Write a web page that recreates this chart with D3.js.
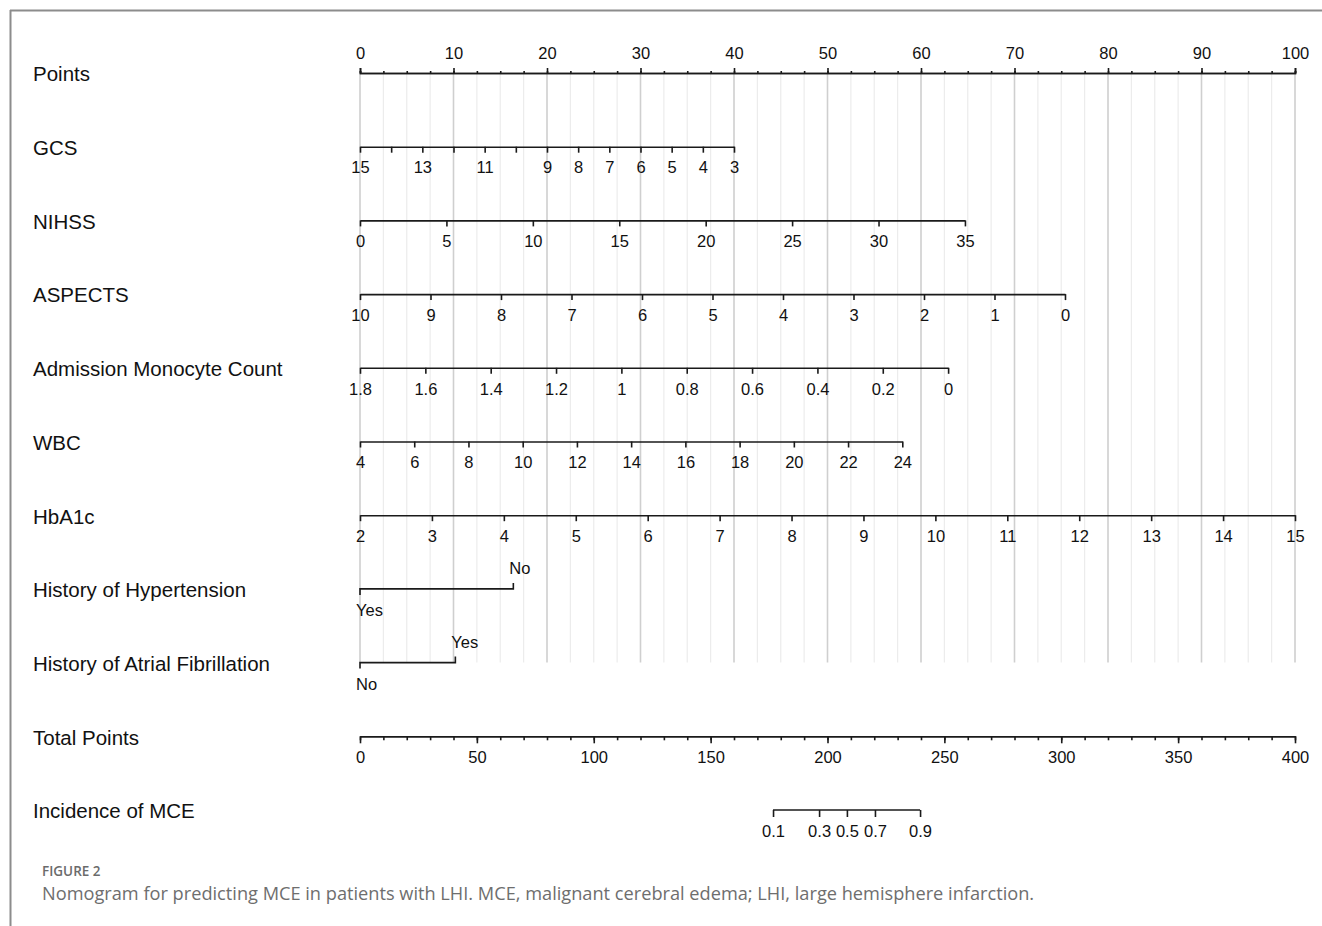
<!DOCTYPE html>
<html>
<head>
<meta charset="utf-8">
<script src="https://cdn.jsdelivr.net/npm/d3@7"></script>
<style>
  html, body { margin: 0; padding: 0; background: #fff; }
  svg { display: block; }
  .lab { font-family: "Liberation Sans", Arial, sans-serif; font-size: 20.5px; fill: #111; }
  .tick text, .tl { font-family: "Liberation Sans", Arial, sans-serif; font-size: 16.5px; fill: #111; }
</style>
</head>
<body>
<svg id="chart" width="1322" height="926"></svg>
<script>
// ---- Nomogram data: axis tick values and the points each variable spans ----
const rowLabels = ["Points", "GCS", "NIHSS", "ASPECTS", "Admission Monocyte Count", "WBC", "HbA1c",
  "History of Hypertension", "History of Atrial Fibrillation", "Total Points", "Incidence of MCE"];

const pointsMajor = [0, 10, 20, 30, 40, 50, 60, 70, 80, 90, 100];
const pointsMinor = d3.range(0, 100.01, 2.5);

const gcsTicks = [15, 14, 13, 12, 11, 10, 9, 8, 7, 6, 5, 4, 3];
const gcsLabelled = [15, 13, 11, 9, 8, 7, 6, 5, 4, 3];
const gcsRange = [15, 3], gcsPts = [0, 40];

const nihssTicks = [0, 5, 10, 15, 20, 25, 30, 35];
const nihssRange = [0, 35], nihssPts = [0, 64.7];

const aspectsTicks = [10, 9, 8, 7, 6, 5, 4, 3, 2, 1, 0];
const aspectsRange = [10, 0], aspectsPts = [0, 75.4];

const monoTicks = [1.8, 1.6, 1.4, 1.2, 1, 0.8, 0.6, 0.4, 0.2, 0];
const monoRange = [1.8, 0], monoPts = [0, 62.9];

const wbcTicks = [4, 6, 8, 10, 12, 14, 16, 18, 20, 22, 24];
const wbcRange = [4, 24], wbcPts = [0, 58];

const hba1cTicks = [2, 3, 4, 5, 6, 7, 8, 9, 10, 11, 12, 13, 14, 15];
const hba1cRange = [2, 15], hba1cPts = [0, 100];

const htnLevels = ["Yes", "No"], htnPts = [0, 16.4];
const afLevels = ["No", "Yes"], afPts = [0, 10.2];

const totalMajor = [0, 50, 100, 150, 200, 250, 300, 350, 400];
const totalMinor = d3.range(0, 400.01, 10);
const totalRange = [0, 400];

const incProb = ["0.1", "0.3", "0.5", "0.7", "0.9"];
const incTotal = [176.7, 196.4, 208.3, 220.3, 239.6];

// ---- Layout ----
const svg = d3.select("#chart");
const X0 = 360, X1 = 1295;
const rowY = d3.scaleLinear().domain([0, 10]).range([73, 810]);
const pts = d3.scaleLinear().domain([0, 100]).range([X0, X1]);
const ink = "#1a1a1a";

// frame lines
svg.append("line").attr("x1", 10).attr("x2", 1322).attr("y1", 10.5).attr("y2", 10.5)
  .attr("stroke", "#8c8c8c").attr("stroke-width", 2);
svg.append("line").attr("x1", 10.5).attr("x2", 10.5).attr("y1", 10).attr("y2", 926)
  .attr("stroke", "#8c8c8c").attr("stroke-width", 2);

// vertical reference grid
const gridTop = rowY(0), gridBot = rowY(8);
svg.append("g").selectAll("line").data(pointsMinor).join("line")
  .attr("x1", d => pts(d)).attr("x2", d => pts(d))
  .attr("y1", gridTop).attr("y2", gridBot)
  .attr("stroke", d => d % 10 === 0 ? "#cfcfcf" : "#ececec")
  .attr("stroke-width", d => d % 10 === 0 ? 1.6 : 1.2);

// row labels
svg.append("g").selectAll("text").data(rowLabels).join("text")
  .attr("class", "lab")
  .attr("x", 33).attr("y", (d, i) => rowY(i) + 1).attr("dy", "0.36em")
  .text(d => d);

function styleAxis(g) {
  g.select(".domain").attr("stroke", ink).attr("stroke-width", 1.6);
  g.selectAll(".tick line").attr("stroke", ink).attr("stroke-width", 1.6);
  g.selectAll(".tick text").attr("fill", "#111");
}

// Points axis (labels above)
{
  const g = svg.append("g").attr("transform", `translate(0,${rowY(0)})`);
  g.append("g").call(d3.axisTop(pts).tickValues(pointsMinor).tickSize(2).tickFormat(""))
    .call(styleAxis);
  g.append("g").call(d3.axisTop(pts).tickValues(pointsMajor).tickSize(5).tickPadding(9)
    .tickFormat(d3.format("d"))).call(styleAxis);
}

// continuous predictor axes
function predictorAxis(row, ticks, range, ptsSpan, fmt, labelled) {
  const s = d3.scaleLinear().domain(range).range(ptsSpan.map(pts));
  const g = svg.append("g").attr("transform", `translate(0,${rowY(row)})`);
  g.call(d3.axisBottom(s).tickValues(ticks).tickSize(6).tickSizeOuter(0).tickPadding(9)
    .tickFormat(d => (!labelled || labelled.includes(d)) ? fmt(d) : ""))
    .call(styleAxis);
}
const fmtNum = d => String(d);
predictorAxis(1, gcsTicks, gcsRange, gcsPts, fmtNum, gcsLabelled);
predictorAxis(2, nihssTicks, nihssRange, nihssPts, fmtNum);
predictorAxis(3, aspectsTicks, aspectsRange, aspectsPts, fmtNum);
predictorAxis(4, monoTicks, monoRange, monoPts, fmtNum);
predictorAxis(5, wbcTicks, wbcRange, wbcPts, fmtNum);
predictorAxis(6, hba1cTicks, hba1cRange, hba1cPts, fmtNum);

// two-level predictors: first level below the line, second above
function binaryAxis(row, levels, ptsSpan) {
  const y = rowY(row);
  const xa = pts(ptsSpan[0]), xb = pts(ptsSpan[1]);
  const g = svg.append("g");
  g.append("path")
    .attr("d", `M${xa},${y + 6}V${y}H${xb}V${y - 6}`)
    .attr("fill", "none").attr("stroke", ink).attr("stroke-width", 1.6);
  g.append("text").attr("class", "tl").attr("x", xa).attr("y", y + 21).attr("dy", "0.36em")
    .attr("text-anchor", "start").attr("dx", -4).text(levels[0]);
  g.append("text").attr("class", "tl").attr("x", xb).attr("y", y - 21).attr("dy", "0.36em")
    .attr("text-anchor", "start").attr("dx", -4).text(levels[1]);
}
binaryAxis(7, htnLevels, htnPts);
binaryAxis(8, afLevels, afPts);

// Total points axis
{
  const tp = d3.scaleLinear().domain(totalRange).range([X0, X1]);
  const g = svg.append("g").attr("transform", `translate(0,${rowY(9)})`);
  g.append("g").call(d3.axisBottom(tp).tickValues(totalMinor).tickSize(4).tickSizeOuter(0).tickFormat(""))
    .call(styleAxis);
  g.append("g").call(d3.axisBottom(tp).tickValues(totalMajor).tickSize(7).tickSizeOuter(0).tickPadding(8)
    .tickFormat(d3.format("d"))).call(styleAxis);

  // predicted incidence, placed on the total-points scale
  const gi = svg.append("g").attr("transform", `translate(0,${rowY(10)})`);
  const inc = d3.scaleOrdinal().domain(incProb).range(incTotal.map(tp));
  const incAxis = d3.axisBottom(inc).tickSize(7).tickSizeOuter(0).tickPadding(8);
  gi.call(incAxis).call(styleAxis);
  gi.select(".domain").attr("d", `M${tp(incTotal[0])},0H${tp(incTotal[incTotal.length - 1])}`);
}

// caption
svg.append("text").attr("x", 42).attr("y", 876)
  .style("font-family", "'Open Sans', 'Noto Sans', sans-serif").style("font-size", "13.5px")
  .style("font-weight", 600).attr("fill", "#6b6b6b").text("FIGURE 2");
svg.append("text").attr("x", 42).attr("y", 900)
  .style("font-family", "'Open Sans', 'Noto Sans', sans-serif").style("font-size", "18.2px")
  .attr("fill", "#6e6e6e")
  .text("Nomogram for predicting MCE in patients with LHI. MCE, malignant cerebral edema; LHI, large hemisphere infarction.");
</script>
</body>
</html>
